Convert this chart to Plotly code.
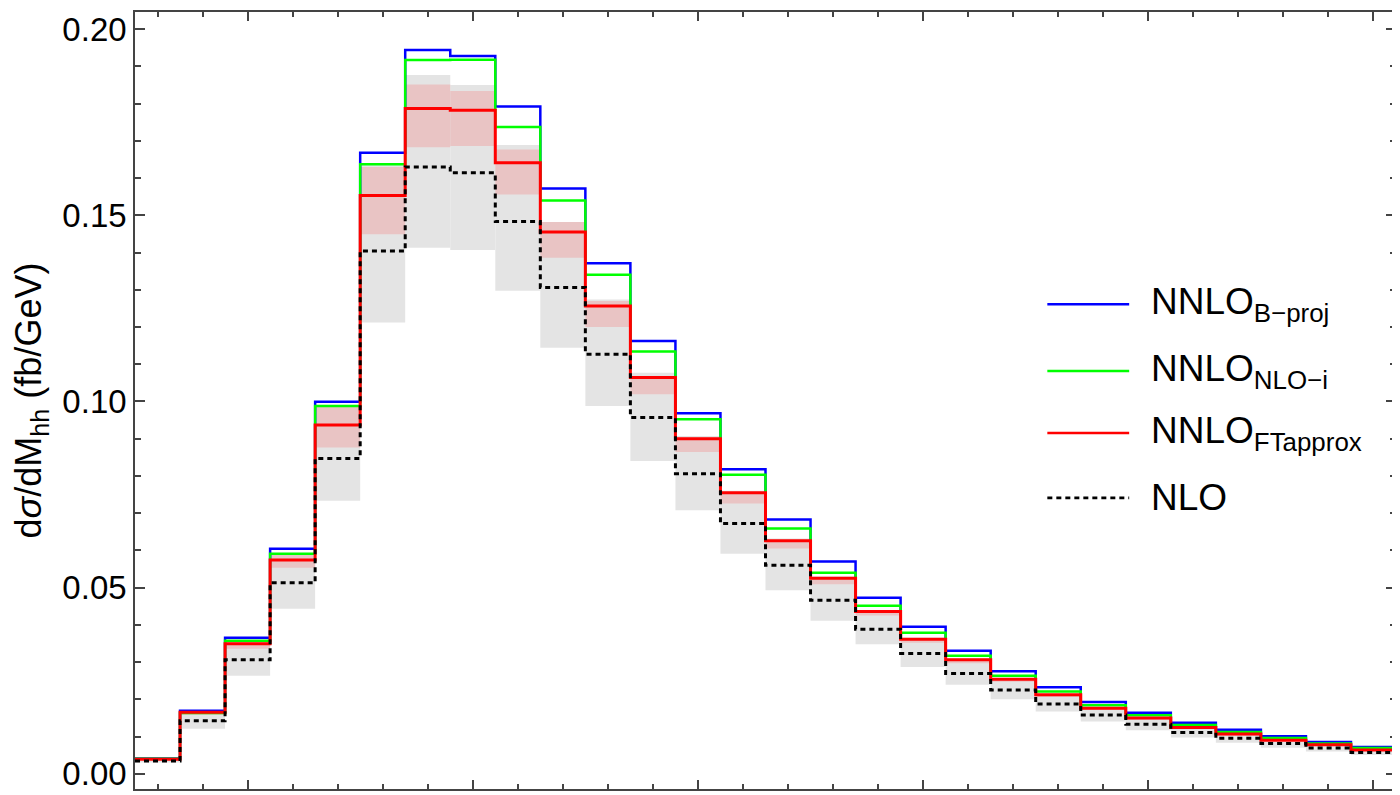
import plotly.graph_objects as go

# Bin edges in M_hh (GeV): 28 bins of 20 GeV from 250 to 810
bin_lo = 250
bin_width = 20
n_bins = 28
edges = [bin_lo + bin_width * i for i in range(n_bins + 1)]
centers = [e + bin_width / 2 for e in edges[:-1]]

nnlo_bproj = [0.0041, 0.0169, 0.0365, 0.0604, 0.0999, 0.1668, 0.1944, 0.1928, 0.1792, 0.1572,
              0.1371, 0.1162, 0.0968, 0.0818, 0.0683, 0.0570, 0.0473, 0.0395, 0.0330, 0.0275,
              0.0232, 0.0193, 0.0164, 0.0137, 0.0118, 0.0101, 0.0085, 0.0072]
nnlo_nloi = [0.0040, 0.0163, 0.0357, 0.0591, 0.0988, 0.1637, 0.1917, 0.1918, 0.1737, 0.1540,
             0.1340, 0.1134, 0.0952, 0.0803, 0.0659, 0.0540, 0.0451, 0.0379, 0.0317, 0.0263,
             0.0221, 0.0184, 0.0157, 0.0131, 0.0112, 0.0096, 0.0081, 0.0069]
nnlo_ftapprox = [0.0039, 0.0165, 0.0349, 0.0574, 0.0937, 0.1553, 0.1787, 0.1782, 0.1641, 0.1455,
                 0.1256, 0.1064, 0.0900, 0.0755, 0.0626, 0.0525, 0.0436, 0.0361, 0.0306, 0.0254,
                 0.0212, 0.0176, 0.0150, 0.0124, 0.0107, 0.0090, 0.0078, 0.0064]
nlo = [0.0034, 0.0142, 0.0306, 0.0513, 0.0847, 0.1404, 0.1630, 0.1614, 0.1483, 0.1306,
       0.1127, 0.0957, 0.0806, 0.0672, 0.0560, 0.0466, 0.0388, 0.0323, 0.0269, 0.0225,
       0.0187, 0.0158, 0.0133, 0.0111, 0.0095, 0.0081, 0.0069, 0.0057]

# NLO scale band (gray)
nlo_band_lo = [0.0030, 0.0121, 0.0263, 0.0443, 0.0733, 0.1212, 0.1413, 0.1407, 0.1297, 0.1144,
               0.0988, 0.0840, 0.0708, 0.0591, 0.0493, 0.0411, 0.0348, 0.0287, 0.0239, 0.0200,
               0.0167, 0.0140, 0.0117, 0.0097, 0.0083, 0.0070, 0.0060, 0.0050]
nlo_band_hi = [0.0040, 0.0166, 0.0352, 0.0585, 0.0980, 0.1640, 0.1877, 0.1850, 0.1689, 0.1480,
               0.1274, 0.1077, 0.0907, 0.0760, 0.0632, 0.0530, 0.0440, 0.0365, 0.0310, 0.0257,
               0.0215, 0.0178, 0.0152, 0.0126, 0.0109, 0.0092, 0.0079, 0.0066]
# NNLO_FTapprox scale band (pink)
nnlo_band_lo = [0.0037, 0.0158, 0.0336, 0.0553, 0.0876, 0.1449, 0.1683, 0.1686, 0.1556, 0.1386,
                0.1200, 0.1019, 0.0864, 0.0726, 0.0605, 0.0509, 0.0425, 0.0352, 0.0297, 0.0247,
                0.0206, 0.0171, 0.0146, 0.0121, 0.0104, 0.0088, 0.0076, 0.0062]
nnlo_band_hi = [0.0040, 0.0166, 0.0355, 0.0588, 0.0985, 0.1630, 0.1851, 0.1834, 0.1677, 0.1482,
                0.1270, 0.1067, 0.0903, 0.0757, 0.0628, 0.0527, 0.0438, 0.0363, 0.0308, 0.0256,
                0.0214, 0.0177, 0.0151, 0.0125, 0.0108, 0.0091, 0.0079, 0.0065]

labels = ["NNLO<sub>B\u2212proj</sub>", "NNLO<sub>NLO\u2212i</sub>",
          "NNLO<sub>FTapprox</sub>", "NLO"]

FONT = "Liberation Sans, Arial, Helvetica, sans-serif"
GRAY_BAND = "#e4e4e4"
PINK_BAND = "#e9c4c4"
FRAME = "#444444"

fig = go.Figure()

fig.add_trace(go.Bar(x=centers, y=[h - l for h, l in zip(nlo_band_hi, nlo_band_lo)],
                     base=nlo_band_lo, width=bin_width, marker=dict(color=GRAY_BAND, line=dict(width=0)),
                     opacity=1, showlegend=False, hoverinfo="skip"))
fig.add_trace(go.Bar(x=centers, y=[h - l for h, l in zip(nnlo_band_hi, nnlo_band_lo)],
                     base=nnlo_band_lo, width=bin_width, marker=dict(color=PINK_BAND, line=dict(width=0)),
                     opacity=1, showlegend=False, hoverinfo="skip"))


def step(vals):
    return list(vals) + [vals[-1]]


series = [
    (nnlo_bproj, "#0000ff", 2.5, "solid"),
    (nnlo_nloi, "#00ff00", 2.5, "solid"),
    (nnlo_ftapprox, "#ff0000", 3.0, "solid"),
    (nlo, "#000000", 3.0, "5px,4px"),
]
for (vals, col, w, dash), name in zip(series, labels):
    fig.add_trace(go.Scatter(x=edges, y=step(vals), mode="lines", line_shape="hv",
                             line=dict(color=col, width=w, dash=dash), name=name,
                             showlegend=False))

# Manual legend (long line samples as in the original)
leg_y = [0.6239, 0.5379, 0.4583, 0.3748]
for (vals, col, w, dash), name, yy in zip(series, labels, leg_y):
    fig.add_shape(type="line", xref="paper", yref="paper", x0=0.7235, x1=0.7884, y0=yy, y1=yy,
                  line=dict(color=col, width=2.5 if dash == "solid" else 2.8, dash=dash))
    fig.add_annotation(xref="paper", yref="paper", x=0.8043, y=yy, xanchor="left", yanchor="middle",
                       text=name, showarrow=False, font=dict(family=FONT, size=37, color="black"))

axis_common = dict(showline=True, linecolor=FRAME, linewidth=1.6, mirror="ticks",
                   ticks="inside", tickcolor=FRAME, tickwidth=1.5, showgrid=False,
                   zeroline=False)

fig.update_xaxes(range=[250, 810], tickmode="linear", tick0=300, dtick=100, ticklen=9,
                 showticklabels=False,
                 minor=dict(ticks="inside", tick0=260, dtick=20, ticklen=5, tickcolor=FRAME,
                            tickwidth=1.5, showgrid=False),
                 **axis_common)
fig.update_yaxes(range=[-0.0041, 0.2046], tickmode="linear", tick0=0, dtick=0.05, ticklen=10,
                 tickformat=".2f", tickfont=dict(family=FONT, size=33, color="black"),
                 minor=dict(ticks="inside", tick0=0, dtick=0.01, ticklen=6, tickcolor=FRAME,
                            tickwidth=1.5, showgrid=False),
                 title=dict(text="d<i>\u03c3</i>/dM<sub>hh</sub> (fb/GeV)",
                            font=dict(family=FONT, size=36, color="black"), standoff=10),
                 **axis_common)

# page body has an 8px default margin: compensate so the plot frame lands where the original's does
fig.update_layout(width=1392, height=787, barmode="overlay",
                  margin=dict(l=127, r=3, t=2, b=6),
                  paper_bgcolor="white", plot_bgcolor="white",
                  font=dict(family=FONT, color="black"), showlegend=False)

fig.write_html("out.html")
